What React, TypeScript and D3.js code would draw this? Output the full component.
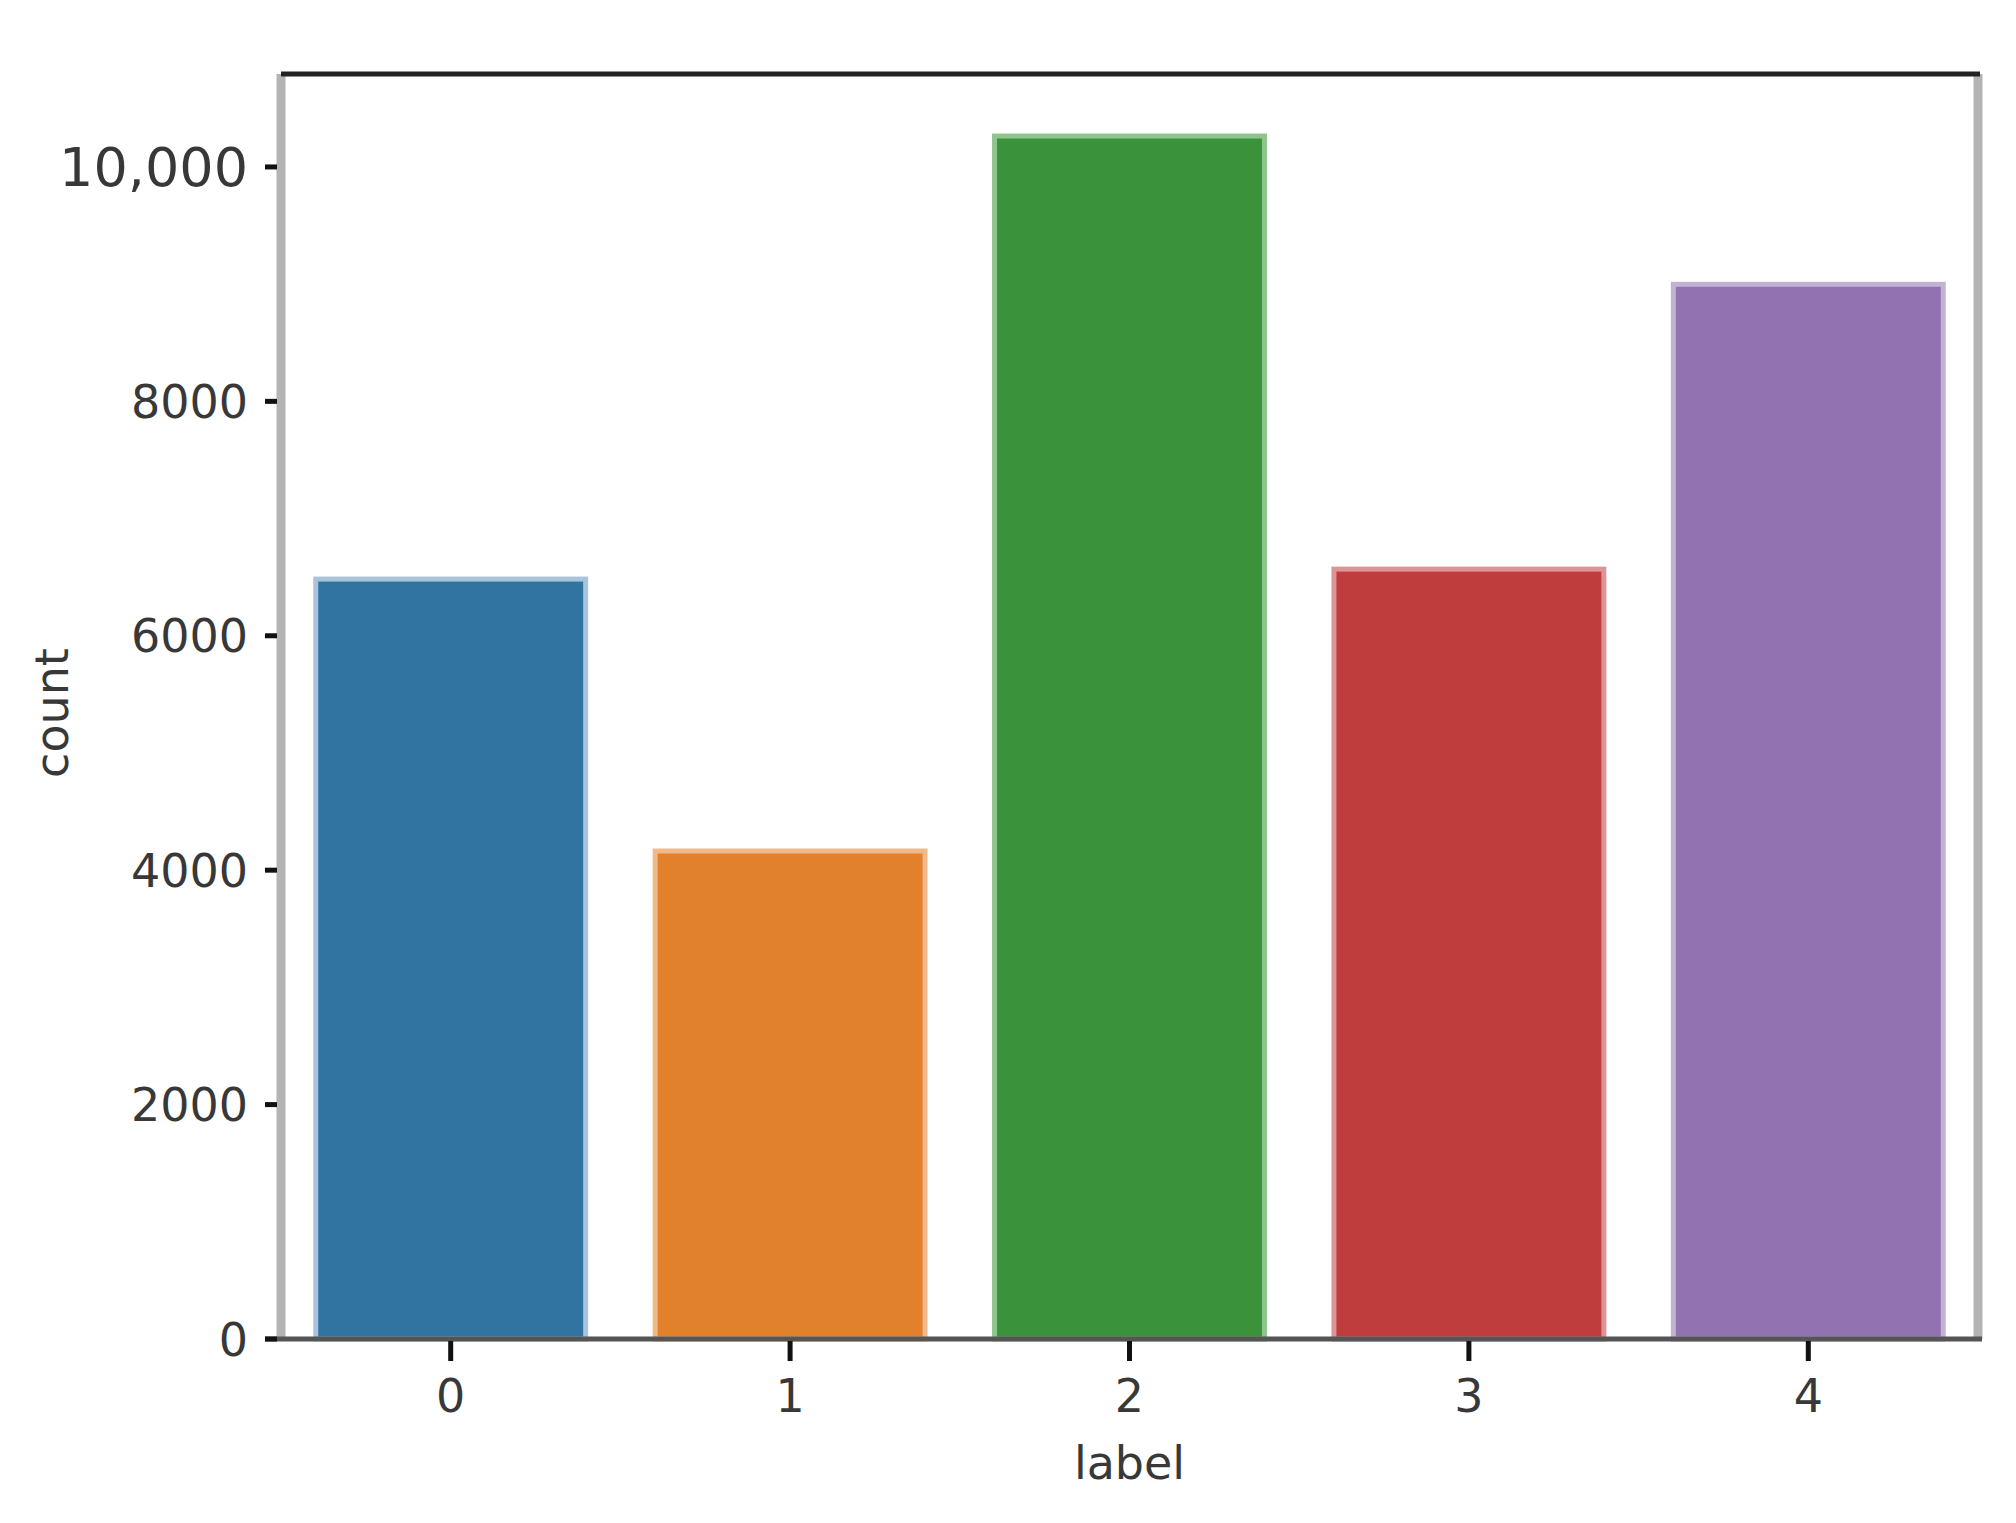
import * as d3 from "d3";
import { useEffect, useRef } from "react";

const labels = ["0", "1", "2", "3", "4"];
const counts = [6505, 4185, 10285, 6590, 9020];
const barColors = ["#3274a1", "#e1812c", "#3a923a", "#c03d3e", "#9372b2"];
const edgeColors = ["#a9c4da", "#efb98a", "#8dc58d", "#dc9596", "#c2b2d4"];
const yTicks = [0, 2000, 4000, 6000, 8000, 10000];
const yTickLabels = ["0", "2000", "4000", "6000", "8000", "10,000"];

export default function App() {
  const svgRef = useRef<SVGSVGElement>(null);

  const width = 2016;
  const height = 1523;
  const left = 281;
  const right = 1978;
  const top = 74;
  const bottom = 1339;

  useEffect(() => {
    const svg = d3.select(svgRef.current);
    svg.selectAll("*").remove();

    const x = d3.scaleBand<string>()
      .domain(labels)
      .range([left, right])
      .paddingInner(0.19)
      .paddingOuter(0.095);

    const y = d3.scaleLinear()
      .domain([0, 10793])
      .range([bottom, top]);

    const g = svg.append("g");

    // bars
    g.selectAll("rect.bar")
      .data(counts)
      .join("rect")
        .attr("class", "bar")
        .attr("x", (d, i) => x(labels[i])! + 2.5)
        .attr("y", d => y(d) + 2.5)
        .attr("width", x.bandwidth() - 5)
        .attr("height", d => bottom - y(d) - 2.5)
        .attr("fill", (d, i) => barColors[i])
        .attr("stroke", (d, i) => edgeColors[i])
        .attr("stroke-width", 5);

    // spines
    g.append("line")
      .attr("x1", left).attr("x2", left)
      .attr("y1", top).attr("y2", bottom)
      .attr("stroke", "#b4b4b4").attr("stroke-width", 9);
    g.append("line")
      .attr("x1", right).attr("x2", right)
      .attr("y1", top).attr("y2", bottom)
      .attr("stroke", "#b4b4b4").attr("stroke-width", 9);
    g.append("line")
      .attr("x1", left).attr("x2", right + 2)
      .attr("y1", top).attr("y2", top)
      .attr("stroke", "#222").attr("stroke-width", 5);
    g.append("line")
      .attr("x1", left - 16).attr("x2", right + 4)
      .attr("y1", bottom).attr("y2", bottom)
      .attr("stroke", "#555").attr("stroke-width", 5);

    // y ticks
    const yt = g.selectAll("g.ytick")
      .data(yTicks)
      .join("g")
        .attr("class", "ytick")
        .attr("transform", d => `translate(0, ${y(d)})`);
    yt.append("line")
      .attr("x1", left - 16).attr("x2", left - 4)
      .attr("stroke", "#111").attr("stroke-width", 5);
    yt.append("text")
      .attr("x", 248)
      .attr("dy", "0.36em")
      .attr("text-anchor", "end")
      .attr("font-family", "DejaVu Sans")
      .attr("font-size", (d, i) => (i === yTicks.length - 1 ? 54 : 46))
      .attr("fill", "#383838")
      .text((d, i) => yTickLabels[i]);

    // x ticks
    const xt = g.selectAll("g.xtick")
      .data(labels)
      .join("g")
        .attr("class", "xtick")
        .attr("transform", d => `translate(${x(d)! + x.bandwidth() / 2}, 0)`);
    xt.append("line")
      .attr("y1", bottom + 2).attr("y2", bottom + 22)
      .attr("stroke", "#111").attr("stroke-width", 5);
    xt.append("text")
      .attr("y", 1395)
      .attr("dy", "0.36em")
      .attr("text-anchor", "middle")
      .attr("font-family", "DejaVu Sans")
      .attr("font-size", 46)
      .attr("fill", "#383838")
      .text(d => d);

    // axis titles
    g.append("text")
      .attr("x", (left + right) / 2)
      .attr("y", 1462)
      .attr("dy", "0.36em")
      .attr("text-anchor", "middle")
      .attr("font-family", "DejaVu Sans")
      .attr("font-size", 46)
      .attr("fill", "#383838")
      .text("label");
    g.append("text")
      .attr("transform", `translate(51, 713) rotate(-90)`)
      .attr("dy", "0.36em")
      .attr("text-anchor", "middle")
      .attr("font-family", "DejaVu Sans")
      .attr("font-size", 46)
      .attr("fill", "#383838")
      .text("count");
  }, []);

  return (
    <svg
      ref={svgRef}
      width={width}
      height={height}
      style={{ position: "absolute", left: 0, top: 0, background: "#fff" }}
    />
  );
}
